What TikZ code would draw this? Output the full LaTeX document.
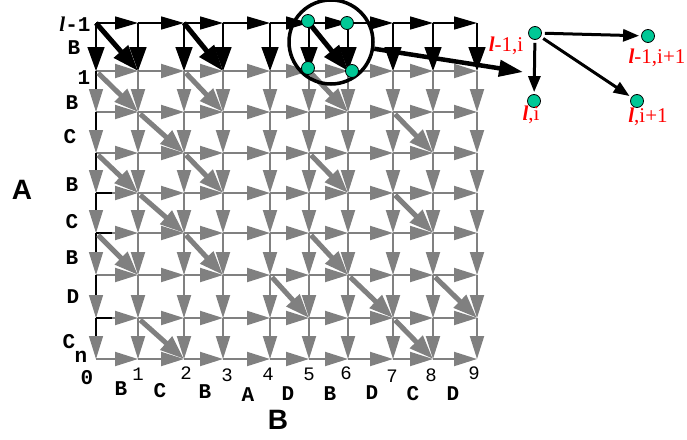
\documentclass[tikz,border=0pt]{standalone}
\usepackage{fontspec}
\setmainfont{Liberation Serif}
\setsansfont{Liberation Sans}
\setmonofont{Liberation Mono}
\usetikzlibrary{arrows.meta}
\definecolor{gridgray}{RGB}{128,128,128}
\definecolor{dotteal}{RGB}{0,200,150}
\definecolor{lblred}{RGB}{255,0,0}
\tikzset{
  garrow/.style={draw=gridgray, line width=2pt, -{Triangle[length=23pt,width=14pt]}},
  gcol/.style={draw=black, line width=1.3pt, -{Triangle[length=23pt,width=14pt,color=gridgray]}},
  gdiag/.style={draw=gridgray, line width=5pt, shorten <=3pt, -{Triangle[length=24pt,width=17pt]}},
  bharrow/.style={draw=black, line width=1.5pt, -{Triangle[length=23pt,width=13pt]}},
  bvarrow/.style={draw=black, line width=1.5pt, -{Triangle[length=24pt,width=17pt]}},
  bdiag/.style={draw=black, line width=5pt, -{Triangle[length=26pt,width=18pt]}},
  stub/.style={draw=black, line width=1.3pt},
  tealdot/.style={circle, draw=black, line width=0.8pt, fill=dotteal, minimum size=13pt, inner sep=0pt},
  seqlbl/.style={font=\fontsize{21}{21}\selectfont\ttfamily\bfseries, inner sep=0pt},
  numlbl/.style={font=\fontsize{19}{19}\selectfont\ttfamily, inner sep=0pt},
  biglbl/.style={font=\fontsize{28}{28}\selectfont\sffamily\bfseries, inner sep=0pt},
  redlbl/.style={font=\fontsize{21}{21}\selectfont\rmfamily, text=lblred, inner sep=0pt},
  rarrow/.style={draw=black, line width=3pt, shorten <=3pt, shorten >=2pt, -{Triangle[length=16pt,width=12pt]}},
}
\begin{document}
\begin{tikzpicture}[x=1pt,y=-1pt]
\useasboundingbox (0,0) rectangle (687,439);
% grid coordinates
\foreach \x [count=\i from 0] in {96,138,184,223,270,309,348,393,433,477}{
  \foreach \y [count=\j from 0] in {23,71,112,153,193,233,275,318,359}{
    \coordinate (g-\i-\j) at (\x,\y);
  }
}
% gray horizontal arrows
\foreach \j in {1,...,8}{
  \foreach \i in {0,...,8}{
    \pgfmathtruncatemacro{\k}{\i+1}
    \draw[garrow] (g-\i-\j) -- (g-\k-\j);
  }
}
% gray vertical arrows
\foreach \i in {1,...,9}{
  \foreach \j in {1,...,7}{
    \pgfmathtruncatemacro{\k}{\j+1}
    \draw[garrow] (g-\i-\j) -- (g-\i-\k);
  }
}
% column 0: black line, gray heads
\foreach \j in {1,...,7}{
  \pgfmathtruncatemacro{\k}{\j+1}
  \draw[gcol] (g-0-\j) -- (g-0-\k);
}
\foreach \j in {4,5,7}{
  \draw[stub] (g-0-\j) -- ++(16,0);
}
% gray diagonals
\foreach \a/\b/\c/\d in {0/1/1/2, 1/2/2/3, 2/3/3/4, 2/1/3/2, 0/3/1/4, 1/4/2/5, 2/5/3/6, 0/5/1/6, 1/7/2/8,
  5/1/6/2, 7/2/8/3, 5/3/6/4, 7/4/8/5, 5/5/6/6, 6/6/7/7, 7/7/8/8, 4/6/5/7, 8/6/9/7}{
  \draw[gdiag] (g-\a-\b) -- (g-\c-\d);
}
% black top row
\foreach \i in {0,...,8}{
  \pgfmathtruncatemacro{\k}{\i+1}
  \draw[bharrow] (g-\i-0) -- (g-\k-0);
}
\foreach \i in {0,...,9}{
  \draw[bvarrow] (g-\i-0) -- (g-\i-1);
}
\draw[bdiag] (g-0-0) -- (g-1-1);
\draw[bdiag] (g-2-0) -- (g-3-1);
\draw[bdiag] (g-5-0) -- (g-6-1);
% zoom circle and dots
\node[circle, draw=black, line width=3.5pt, minimum size=84pt, inner sep=0pt] (zc) at (331,42) {};
\node[tealdot] (d1) at (308,21) {};
\node[tealdot] (d2) at (347,23) {};
\node[tealdot] (d3) at (308,68) {};
\node[tealdot] (d4) at (352,71) {};
\coordinate (ztip) at (523,72);
\draw[draw=black, line width=4.5pt, -{Triangle[length=24pt,width=16pt]}] (zc) -- (ztip);
% right diagram
\node[tealdot] (ra) at (535,33) {};
\node[tealdot] (rb) at (648,36) {};
\node[tealdot] (rc) at (534,101) {};
\node[tealdot] (rd) at (637,101) {};
\draw[rarrow] (ra) -- (rb);
\draw[rarrow] (ra) -- (rc);
\draw[rarrow] (ra) -- (rd);
\node[redlbl] (la) at (506,46) {{\bfseries\itshape l}-1,i};
\node[redlbl] (lb) at (657,58) {{\bfseries\itshape l}-1,i+1};
\node[redlbl] (lc) at (531,115) {{\bfseries\itshape l},i};
\node[redlbl] (ld) at (648,117) {{\bfseries\itshape l},i+1};
% left labels
\node[seqlbl] (top) at (75,24) {{\rmfamily\bfseries\itshape l}-1};
\node[seqlbl] (s1) at (74,48) {B};
\node[seqlbl] (one) at (84,78) {1};
\node[seqlbl] (s2) at (72,103) {B};
\node[seqlbl] (s3) at (70,137) {C};
\node[seqlbl] (s4) at (72,185) {B};
\node[seqlbl] (s5) at (72,222) {C};
\node[seqlbl] (s6) at (72,258) {B};
\node[seqlbl] (s7) at (73,297) {D};
\node[seqlbl] (s8) at (69,342) {C};
\node[seqlbl] (sn) at (81,357) {n};
\node[biglbl] (bigA) at (22,190) {A};
% bottom numbers
\node[seqlbl] (n0) at (87,378) {0};
\foreach \t/\x/\y in {1/138/374, 2/186/373, 3/227/375, 4/268/374, 5/309/374, 6/346/373, 7/392/376, 8/431/375, 9/474/373}{
  \node[numlbl] (n\t) at (\x,\y) {\t};
}
% bottom letters
\foreach \t/\x/\y [count=\n] in {B/121/389, C/160/391, B/205/392, A/248/395, D/288/394, B/330/394, D/372/393, C/413/394, D/453/394}{
  \node[seqlbl] (b\n) at (\x,\y) {\t};
}
\node[biglbl] (bigB) at (278,420) {B};
\end{tikzpicture}
\end{document}
